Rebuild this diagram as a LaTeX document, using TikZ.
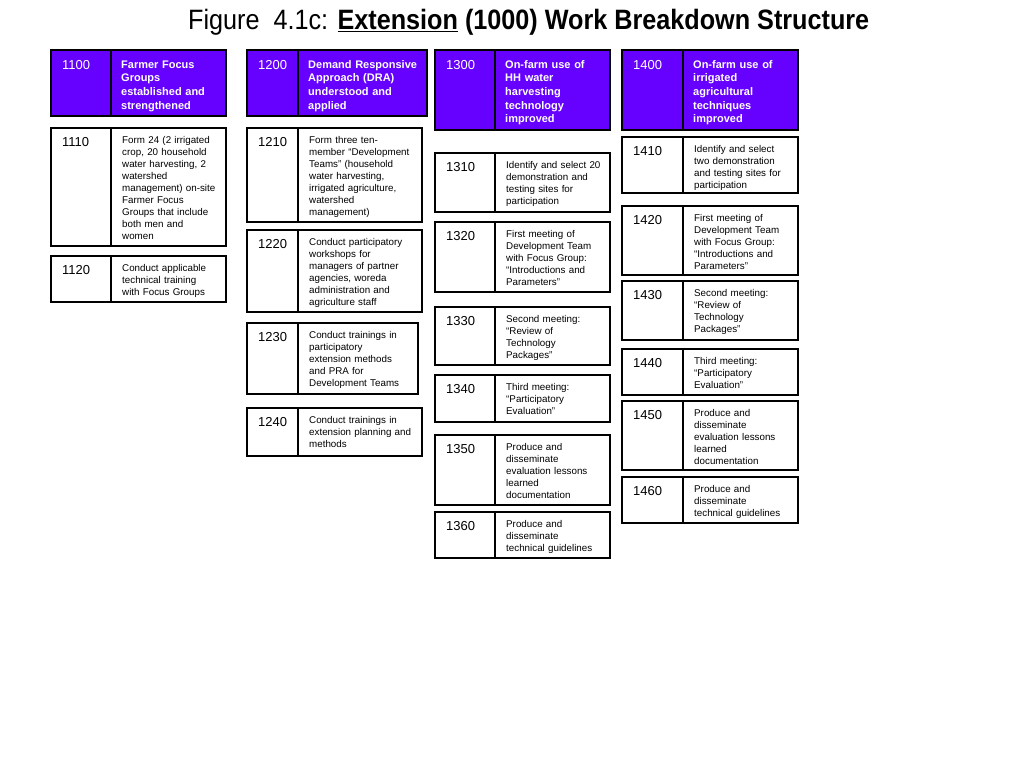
\documentclass[tikz,border=0pt]{standalone}
\usepackage{fontspec}
\setmainfont{Liberation Sans}
\usepackage{tikz}
\usetikzlibrary{fit}
\definecolor{wbspurple}{HTML}{6600FF}
\tikzset{
  cell/.style={rectangle, draw=black, line width=1.7pt, inner sep=0pt},
  headcell/.style={cell, fill=wbspurple},
  taskcell/.style={cell, fill=white},
  numtxt/.style={anchor=base west, inner sep=0pt, font=\fontsize{13}{15}\selectfont},
  headtxt/.style={anchor=base west, inner sep=0pt, align=left, text width=140pt, text=white,
                  font=\fontsize{11}{13.7}\selectfont\bfseries},
  tasktxt/.style={anchor=base west, inner sep=0pt, align=left, text width=140pt,
                  font=\fontsize{9.8}{12}\selectfont},
  titletxt/.style={anchor=base west, inner sep=0pt, font=\fontsize{28}{32}\selectfont},
}
% #1 name, #2 left, #3 divider, #4 right, #5 top, #6 bottom, #7 number, #8 text
\newcommand{\wbshead}[8]{%
  \node[headcell, fit={(#2,#5) (#3,#6)}] (#1a) {};
  \node[headcell, fit={(#3,#5) (#4,#6)}] (#1b) {};
  \node[numtxt, text=white] (#1n) at (#2+11,#5+19) {#7};
  \node[headtxt] (#1t) at (#3+10,#5+18) {#8};
}
\newcommand{\wbstask}[8]{%
  \node[taskcell, fit={(#2,#5) (#3,#6)}] (#1a) {};
  \node[taskcell, fit={(#3,#5) (#4,#6)}] (#1b) {};
  \node[numtxt] (#1n) at (#2+11,#5+18) {#7};
  \node[tasktxt] (#1t) at (#3+11,#5+15) {#8};
}

\begin{document}
\begin{tikzpicture}[x=1pt, y=-1pt]
  \useasboundingbox (0,0) rectangle (1024,768);
  \node[titletxt] (title) at (188,29.5) {\scalebox{0.9}[1]{Figure\ \ 4.1c: \textbf{\underline{Extension} (1000) Work Breakdown Structure}}};

  \wbshead{w1100}{51}{111}{226}{50}{116}{1100}{Farmer Focus\\Groups\\established and\\strengthened}
  \wbstask{w1110}{51}{111}{226}{128}{246}{1110}{Form 24 (2 irrigated\\crop, 20 household\\water harvesting, 2\\watershed\\management) on-site\\Farmer Focus\\Groups that include\\both men and\\women}
  \wbstask{w1120}{51}{111}{226}{256}{302}{1120}{Conduct applicable\\technical training\\with Focus Groups}

  \wbshead{w1200}{247}{298}{427}{50}{116}{1200}{Demand Responsive\\Approach (DRA)\\understood and\\applied}
  \wbstask{w1210}{247}{298}{422}{128}{222}{1210}{Form three ten-\\member “Development\\Teams” (household\\water harvesting,\\irrigated agriculture,\\watershed\\management)}
  \wbstask{w1220}{247}{298}{422}{230}{312}{1220}{Conduct participatory\\workshops for\\managers of partner\\agencies, woreda\\administration and\\agriculture staff}
  \wbstask{w1230}{247}{298}{418}{323}{394}{1230}{Conduct trainings in\\participatory\\extension methods\\and PRA for\\Development Teams}
  \wbstask{w1240}{247}{298}{422}{408}{456}{1240}{Conduct trainings in\\extension planning and\\methods}

  \wbshead{w1300}{435}{495}{610}{50}{130}{1300}{On-farm use of\\HH water\\harvesting\\technology\\improved}
  \wbstask{w1310}{435}{495}{610}{153}{212}{1310}{Identify and select 20\\demonstration and\\testing sites for\\participation}
  \wbstask{w1320}{435}{495}{610}{222}{292}{1320}{First meeting of\\Development Team\\with Focus Group:\\“Introductions and\\Parameters”}
  \wbstask{w1330}{435}{495}{610}{307}{365}{1330}{Second meeting:\\“Review of\\Technology\\Packages”}
  \wbstask{w1340}{435}{495}{610}{375}{422}{1340}{Third meeting:\\“Participatory\\Evaluation”}
  \wbstask{w1350}{435}{495}{610}{435}{505}{1350}{Produce and\\disseminate\\evaluation lessons\\learned\\documentation}
  \wbstask{w1360}{435}{495}{610}{512}{558}{1360}{Produce and\\disseminate\\technical guidelines}

  \wbshead{w1400}{622}{683}{798}{50}{130}{1400}{On-farm use of\\irrigated\\agricultural\\techniques\\improved}
  \wbstask{w1410}{622}{683}{798}{137}{193}{1410}{Identify and select\\two demonstration\\and testing sites for\\participation}
  \wbstask{w1420}{622}{683}{798}{206}{275}{1420}{First meeting of\\Development Team\\with Focus Group:\\“Introductions and\\Parameters”}
  \wbstask{w1430}{622}{683}{798}{281}{340}{1430}{Second meeting:\\“Review of\\Technology\\Packages”}
  \wbstask{w1440}{622}{683}{798}{349}{395}{1440}{Third meeting:\\“Participatory\\Evaluation”}
  \wbstask{w1450}{622}{683}{798}{401}{470}{1450}{Produce and\\disseminate\\evaluation lessons\\learned\\documentation}
  \wbstask{w1460}{622}{683}{798}{477}{523}{1460}{Produce and\\disseminate\\technical guidelines}
\end{tikzpicture}
\end{document}
